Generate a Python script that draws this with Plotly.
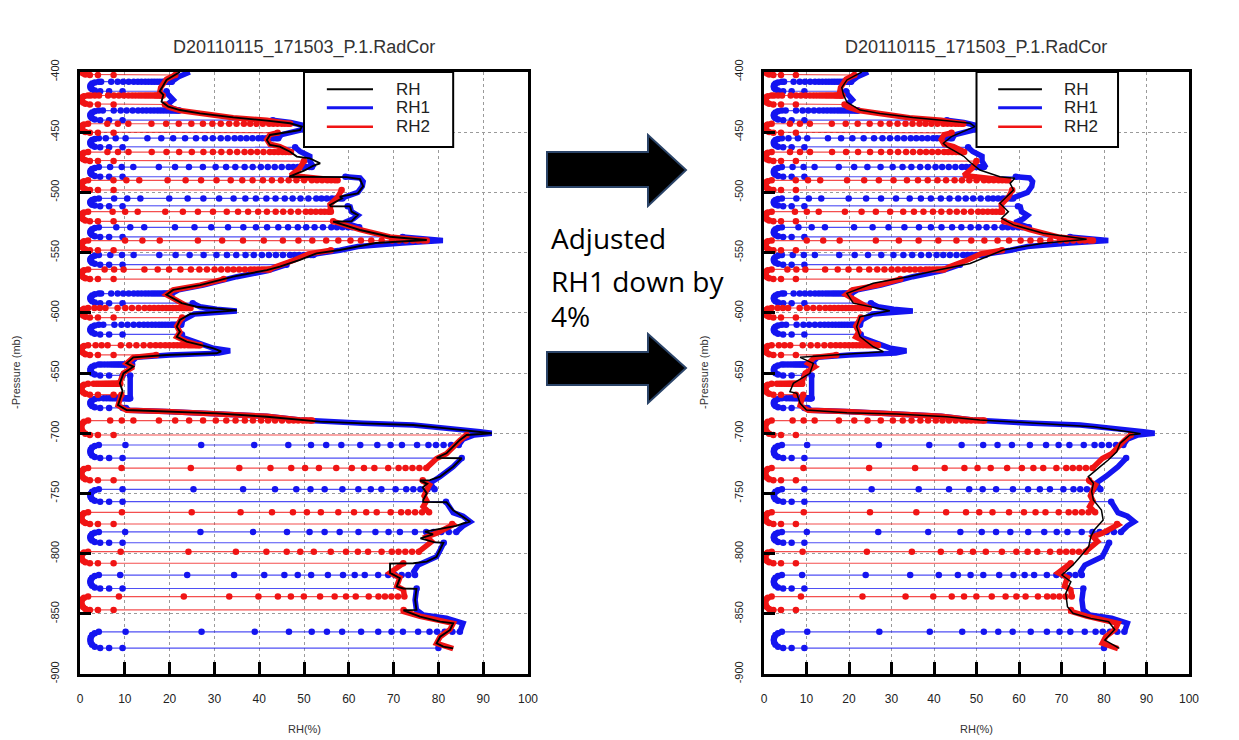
import numpy as np
import plotly.graph_objects as go

W, H = 1239, 740
TITLE = "D20110115_171503_P.1.RadCor"
X_TICKS = list(range(0, 101, 10))
Y_TICKS = list(range(-900, -399, 50))
Y_TICK_TEXT = [str(v) for v in Y_TICKS]
LEGEND_NAMES = ["RH", "RH1", "RH2"]
NOTE_LINES = ["Adjusted", "RH1 down by", "4%"]

BLUE = "#1414F0"
RED = "#F01414"
BLUE_THIN = "rgba(20,20,240,0.75)"
RED_THIN = "rgba(240,20,20,0.75)"

# RH1 (blue sensor) profile: (pressure mb, RH %)
RH1_PROFILE = [
    (400, 24.5), (404, 22.0), (408, 20.5), (413, 19.0), (418, 19.5), (423, 20.8), (427, 19.5),
    (430, 20.5), (433, 23.0), (436, 28.0), (438, 35.0), (440, 43.0), (442, 47.0), (444, 49.5),
    (446, 50.0), (448, 49.5), (452, 45.0), (456, 44.0), (460, 47.2), (466, 49.1), (470, 51.3),
    (474, 51.3), (478, 52.0), (482, 51.0), (486, 56.0), (488, 62.5), (491, 63.2), (495, 63.0),
    (500, 62.0), (504, 59.0), (509, 57.0), (512, 60.3), (516, 60.6), (519, 62.0), (522, 61.0),
    (525, 59.0), (531, 64.0), (537, 72.0), (540, 81.0), (542, 72.0), (545, 62.0), (548, 58.0),
    (551, 52.8), (556, 49.1), (562, 44.6), (565, 42.0), (570, 35.0), (577, 27.5), (581, 22.0),
    (585, 20.0), (588, 21.5), (591, 24.6), (595, 26.8), (597, 30.5), (598.5, 35.0), (601, 25.5),
    (606, 23.0), (611, 22.5), (616, 23.0), (620, 22.5), (624, 25.0), (627, 28.0), (629.5, 29.8),
    (631.5, 33.5), (633.5, 31.0), (635, 20.0), (637, 12.6), (642, 11.2), (645, 12.5), (650, 11.2),
    (655, 11.2), (660, 11.2), (665, 11.2), (672, 11.2), (677, 9.5), (681, 11.0), (682, 19.3),
    (683.5, 30.5), (686, 41.7), (689, 49.1), (691.8, 63.2), (693.2, 74.4), (696, 81.8),
    (698.7, 89.3), (700, 91.9), (701.5, 88.0), (705, 85.5), (710, 84.5), (715, 85.5),
    (720.8, 85.2), (727.8, 83.3), (736, 80.4), (741.6, 78.1), (746, 79.0), (750, 80.0),
    (755, 81.5), (758, 81.8), (766, 83.3), (769, 85.5), (773.5, 87.1), (777, 85.5), (782, 84.0),
    (787, 82.0), (791.5, 81.1), (797, 80.4), (802.6, 79.6), (806.7, 77.4), (809.5, 75.5),
    (815, 74.5), (820, 75.0), (825, 75.3), (830, 75.1), (838.5, 74.8), (846.8, 75.1), (851, 76.6),
    (853.7, 81.8), (857.8, 85.5), (862, 85.0), (865, 84.8), (870, 83.0), (875, 81.0), (878.5, 80.0),
]

# RH2 (red sensor) profile
RH2_PROFILE = [
    (400, 22.7), (406, 19.3), (413, 18.0), (417, 17.8), (420, 18.6), (425, 18.2), (429, 19.7),
    (432, 22.3), (434, 26.8), (438, 34.2), (440, 41.7), (443, 46.9), (445, 48.5), (448, 47.0),
    (452, 42.4), (456, 41.7), (460, 42.4), (462, 44.6), (466, 46.9), (470, 48.4), (474, 50.0),
    (480, 49.0), (486, 47.0), (490, 57.5), (495, 59.0), (500, 58.0), (504, 57.5), (510, 55.8),
    (516, 56.0), (520, 55.5), (524, 56.5), (531, 62.5), (537, 69.2), (540, 77.4), (542, 68.0),
    (548, 56.0), (551, 51.0), (556, 48.0), (562, 43.5), (565, 41.7), (570, 34.2), (577, 26.8),
    (581, 20.8), (585, 19.3), (588, 20.8), (592, 22.7), (595, 24.0), (598, 26.0), (601, 23.5),
    (606, 22.3), (611, 21.6), (616, 22.3), (620, 21.6), (624, 23.8), (627, 26.8), (630, 28.0),
    (633, 24.0), (635, 17.0), (637, 11.9), (642, 10.4), (645, 11.9), (650, 9.7), (658, 8.9),
    (665, 9.5), (672, 8.9), (677, 8.5), (681, 10.4), (682, 19.3), (683.5, 30.5), (686, 41.7),
    (689, 49.1), (691, 60.0), (693, 72.0), (696, 80.0), (699, 85.5), (701.5, 86.3), (706, 84.8),
    (711, 83.3), (717, 81.8), (721, 79.6), (725, 78.5), (730, 77.0), (736, 76.2), (740, 76.6),
    (743, 78.0), (747, 77.4), (752, 76.8), (756, 77.4), (761, 76.6), (766, 78.0), (770, 81.0),
    (776, 83.3), (783, 79.6), (786, 77.4), (790, 78.5), (795, 77.0), (800, 75.0), (806, 73.0),
    (812, 70.5), (816, 69.2), (820, 71.4), (827, 70.7), (830, 72.2), (838, 72.5), (848, 72.2),
    (852, 75.9), (856, 80.4), (858, 83.3), (863, 82.6), (869, 80.4), (874.5, 79.6), (877, 81.1),
    (879, 83.3),
]

# RH (black) profile, left panel (original)
RH_LEFT = [
    (400, 22.3), (406.6, 19.3), (413.6, 18.2), (416, 17.8), (419, 18.6), (424.6, 18.2),
    (428.8, 19.7), (431.6, 22.3), (434.4, 26.8), (437.7, 34.2), (440.4, 41.7), (442.6, 46.9),
    (445.4, 49.5), (448.2, 49.1), (452.3, 42.4), (456.5, 41.7), (460.6, 42.4), (462, 44.6),
    (466.2, 46.9), (470.3, 48.4), (471.7, 51.3), (475.8, 53.6), (478, 52.0), (482, 50.0),
    (486.5, 47.0), (487, 46.7), (487.3, 59.5), (489, 62.5), (495, 63.2), (500.8, 62.0),
    (503.5, 58.0), (505, 58.5), (510.5, 55.8), (511.5, 56.0), (511.6, 60.3), (516, 60.6),
    (518.8, 62.0), (524, 60.6), (524.3, 56.5), (531.2, 62.5), (536.8, 69.2), (539.5, 77.4),
    (542, 66.0), (547.8, 58.0), (550.6, 52.8), (556, 49.1), (561.7, 44.6), (564.5, 41.7),
    (570, 34.2), (577, 26.8), (581, 20.8), (585, 19.3), (588, 20.8), (592, 22.7), (595, 26.0),
    (598, 35.0), (601, 24.6), (606, 22.3), (611.5, 21.6), (615.7, 22.3), (620, 21.6), (624, 23.8),
    (626.7, 26.8), (629.5, 29.8), (632, 31.5), (633.6, 30.5), (635, 19.3), (637, 11.9),
    (642, 10.4), (644.8, 11.9), (650.3, 9.7), (658.5, 8.9), (665, 9.5), (672.4, 8.9),
    (676.6, 8.5), (680.7, 10.4), (682, 19.3), (683.5, 30.5), (686.3, 41.7), (689, 49.1),
    (690.4, 53.6), (691.8, 63.2), (693.2, 74.4), (696, 81.8), (698.7, 89.3), (700, 91.9),
    (701.5, 86.3), (705.6, 84.8), (711.2, 83.3), (716.7, 81.8), (720.5, 79.6), (720.8, 85.2),
    (727.8, 83.3), (736, 80.4), (739, 78.1), (739.3, 75.9), (742, 77.5), (745, 76.5),
    (750, 77.4), (755.5, 76.6), (757, 76.6), (757.3, 81.8), (764, 83.3), (769.4, 85.5),
    (773.5, 87.1), (775, 85.5), (777, 84.0), (781.8, 77.0), (784, 78.8), (787.3, 76.0),
    (790.5, 79.0), (791, 81.1), (797, 80.4), (802.6, 79.6), (806.7, 77.4), (808, 74.4),
    (808.3, 69.2), (816, 69.2), (820.5, 71.4), (827.5, 70.7), (829, 72.2), (829.3, 75.1),
    (838.5, 74.8), (846.8, 75.1), (847.1, 72.2), (852.3, 75.9), (856.5, 80.4), (857.8, 83.3),
    (863.4, 82.6), (869, 80.4), (874.5, 79.6), (877.3, 81.1), (878.7, 83.3),
]

# RH (black) profile, right panel (RH1 adjusted down by 4 %)
RH_RIGHT = [
    (400, 23.0), (406.6, 19.5), (413, 18.3), (419, 18.7), (425, 19.5), (431.6, 22.6),
    (434.4, 27.3), (437.7, 35.0), (440.4, 43.0), (442.6, 48.5), (445.4, 49.6), (448, 48.0),
    (453.7, 44.1), (459.2, 42.2), (462, 43.0), (466, 45.0), (470, 47.0), (475, 48.5),
    (481.4, 50.8), (487, 55.5), (488.3, 59.0), (492.5, 57.9), (498, 58.7), (503.6, 57.1),
    (509, 55.5), (516, 57.5), (521.5, 55.9), (527, 58.7), (534, 65.7), (539, 75.9),
    (542.3, 65.7), (547.8, 56.3), (553.4, 52.4), (559, 48.5), (564.5, 41.0), (570, 34.0),
    (575.5, 25.7), (583.8, 19.5), (592, 21.0), (598.3, 29.6), (603.2, 22.6), (611.5, 21.8),
    (619.8, 22.6), (628.2, 25.7), (632.3, 28.1), (637, 8.5), (642, 11.6), (650.3, 10.8),
    (658.6, 6.9), (665.5, 6.1), (666.9, 7.7), (675.2, 8.5), (680.7, 10.0), (683, 19.5),
    (684, 31.2), (686.3, 43.0), (689, 50.8), (692.4, 65.7), (694.6, 77.5), (699.5, 86.9),
    (700.5, 88.6), (701.5, 86.1), (708.4, 83.8), (715.4, 83.0), (722.3, 81.0), (727.8, 79.1),
    (736.1, 76.3), (741.6, 77.5), (748.5, 77.1), (755.5, 77.5), (763.8, 79.4), (772.1, 79.8),
    (780.4, 77.7), (786, 76.9), (794.3, 76.4), (802.6, 74.4), (809.5, 72.7), (817.8, 70.1),
    (823.3, 72.2), (833, 71.0), (844.1, 71.4), (849.6, 72.7), (853.8, 76.9), (856.6, 81.1),
    (863, 82.5), (871.8, 80.2), (878.7, 83.6),
]

# heating cycles: (pressure where heating starts, pressure where recovery shows)
RH1_CYCLES = [(416, 408), (440, 432), (462.6, 455), (487, 479), (511.5, 505), (537, 529),
              (560, 552), (592, 584), (618, 610), (652, 643), (679, 671), (720.7, 709.8),
              (756.9, 746.6), (791, 782), (829, 817.8), (878.5, 865)]
RH2_CYCLES = [(402.5, 396), (427, 419.5), (450.5, 443), (474, 466.5), (498, 490), (524, 516),
              (548, 540), (572, 564), (604, 596), (635, 627), (668, 659), (701.5, 689.5),
              (739, 729), (775.4, 765.7), (808, 798.4), (846.8, 835.7)]

# readings while heating / recovering
RH1_DROP_DOTS = [9.5, 6.5]
RH2_DROP_DOTS = [7.5, 4.0]
HEAT_T = [0.0, 0.08, 0.2, 0.35, 0.5, 0.65, 0.8, 0.92, 1.0]
RH1_HEAT = [4.5, 3.3, 2.7, 2.4, 2.3, 2.4, 2.7, 3.3, 4.2]
RH2_HEAT = [2.2, 1.2, 0.7, 0.4, 0.3, 0.3, 0.5, 0.9, 1.8]
REC_FRAC_UPPER = [0.13, 0.18, 0.23, 0.34, 0.41, 0.47, 0.53, 0.585, 0.63, 0.67, 0.71, 0.745,
                  0.78, 0.81, 0.84, 0.87, 0.9, 0.92, 0.94, 0.96, 0.975, 0.99]
REC_FRAC_LOWER = [0.12, 0.32, 0.46, 0.55, 0.61, 0.65, 0.69, 0.74, 0.785, 0.82, 0.85, 0.89,
                  0.92, 0.94, 0.96, 0.98]
REC_SPLIT_P = 690


def unzip(pairs):
    p = np.array([a for a, _ in pairs], float)
    v = np.array([b for _, b in pairs], float)
    o = np.argsort(p)
    return p[o], v[o]


def sensor_paths(profile, cycles, drop_dots, heat_rh):
    pp, vv = unzip(profile)

    def lev(p):
        return float(np.interp(p, pp, vv))

    tx, ty = [], []
    for d, r in cycles:
        ld, lr = lev(d), lev(r)
        xs = [ld] + [v for v in drop_dots if v < ld]
        ys = [d] * len(xs)
        xs += list(heat_rh)
        ys += [d - t * (d - r) for t in HEAT_T]
        fr = REC_FRAC_UPPER if r < REC_SPLIT_P else REC_FRAC_LOWER
        rec = [f * lr for f in fr if f * lr > heat_rh[-1] + 0.5] + [lr]
        xs += rec
        ys += [r] * len(rec)
        tx += xs + [None]
        ty += [-y for y in ys] + [None]

    kx, ky = [], []
    start = pp.max()
    bounds = []
    for d, r in sorted(cycles, reverse=True):
        if start > d:
            bounds.append((start, d))
        start = r
    if start > pp.min():
        bounds.append((start, pp.min()))
    for a, b in bounds:
        ps = [a] + [p for p in pp[::-1] if b < p < a] + [b]
        kx += [lev(p) for p in ps] + [None]
        ky += [-p for p in ps] + [None]
    return (tx, ty), (kx, ky)


def px(x):
    return x / W


def py(y):
    return 1 - y / H


fig = go.Figure()
panels = [("x", "y", RH_LEFT, 1.9), ("x2", "y2", RH_RIGHT, 1.5)]
for xa, ya, black, bw in panels:
    for prof, cyc, dd, heat, col, thin in [
            (RH1_PROFILE, RH1_CYCLES, RH1_DROP_DOTS, RH1_HEAT, BLUE, BLUE_THIN),
            (RH2_PROFILE, RH2_CYCLES, RH2_DROP_DOTS, RH2_HEAT, RED, RED_THIN)]:
        (tx, ty), (kx, ky) = sensor_paths(prof, cyc, dd, heat)
        fig.add_trace(go.Scatter(x=tx, y=ty, mode="lines+markers", xaxis=xa, yaxis=ya,
                                 line=dict(color=thin, width=1.2), marker=dict(color=col, size=6.5),
                                 showlegend=False, hoverinfo="skip"))
        fig.add_trace(go.Scatter(x=kx, y=ky, mode="lines", xaxis=xa, yaxis=ya,
                                 line=dict(color=col, width=5.5), showlegend=False, hoverinfo="skip"))
    bp, bv = unzip(black)
    fig.add_trace(go.Scatter(x=bv, y=-bp, mode="lines", xaxis=xa, yaxis=ya,
                             line=dict(color="black", width=bw), showlegend=False, hoverinfo="skip"))

FONT = "Liberation Sans, Arial, sans-serif"
xcommon = dict(range=[0, 100], tickvals=X_TICKS, ticks="inside", ticklen=12, tickwidth=2.5,
               tickcolor="black", showline=True, linecolor="black", linewidth=2.5, mirror=True,
               showgrid=True, gridcolor="#9a9a9a", griddash="dot", gridwidth=1, zeroline=False,
               tickfont=dict(size=12, family=FONT, color="#222"), ticklabelstandoff=12,
               automargin=False)
ycommon = dict(range=[-900, -400], tickvals=Y_TICKS, ticktext=Y_TICK_TEXT, tickangle=-90,
               ticks="inside", ticklen=11, tickwidth=2.5, tickcolor="black", showline=True,
               linecolor="black", linewidth=2.5, mirror=True, showgrid=True, gridcolor="#9a9a9a",
               griddash="dot", gridwidth=1, zeroline=False,
               tickfont=dict(size=11, family=FONT, color="#222"), ticklabelstandoff=14,
               automargin=False)

fig.update_layout(
    width=W, height=H, margin=dict(l=0, r=0, t=0, b=0, pad=0, autoexpand=False),
    paper_bgcolor="white", plot_bgcolor="white", showlegend=False,
    font=dict(family=FONT, color="#222"),
    xaxis=dict(domain=[px(80), px(528)], anchor="y", **xcommon),
    yaxis=dict(domain=[py(674), py(72)], anchor="x", **ycommon),
    xaxis2=dict(domain=[px(764), px(1189)], anchor="y2", **xcommon),
    yaxis2=dict(domain=[py(674), py(72)], anchor="x2", **ycommon),
)

shapes = []
annotations = []
# legend boxes (data coords, same in both panels)
for xr, yr in [("x", "y"), ("x2", "y2")]:
    shapes.append(dict(type="rect", xref=xr, yref=yr, x0=50, x1=83.3, y0=-462.3, y1=-400,
                       fillcolor="white", line=dict(color="black", width=2), layer="above"))
    for name, col, lw, yy in zip(LEGEND_NAMES, ["black", BLUE, RED], [2, 3, 2.5],
                                 [-414.4, -429.6, -445.4]):
        shapes.append(dict(type="line", xref=xr, yref=yr, x0=55.1, x1=65.4, y0=yy, y1=yy,
                           line=dict(color=col, width=lw), layer="above"))
        annotations.append(dict(xref=xr, yref=yr, x=70.0, y=yy, text=name, showarrow=False,
                                xanchor="left", yanchor="middle",
                                font=dict(size=17, family=FONT, color="#222")))

# titles and axis titles
for cx, yx in [(304, 16), (976, 704)]:
    annotations.append(dict(xref="paper", yref="paper", x=px(cx), y=py(47), text=TITLE,
                            showarrow=False, xanchor="center", yanchor="middle",
                            font=dict(size=18, family=FONT, color="#333")))
    annotations.append(dict(xref="paper", yref="paper", x=px(cx), y=py(729), text="RH(%)",
                            showarrow=False, xanchor="center", yanchor="middle",
                            font=dict(size=11, family=FONT, color="#333")))
    annotations.append(dict(xref="paper", yref="paper", x=px(yx), y=py(373),
                            text="-Pressure (mb)", textangle=-90, showarrow=False,
                            xanchor="center", yanchor="middle",
                            font=dict(size=11, family=FONT, color="#333")))

# arrows
for top, tip, bot, sh_t, sh_b in [(135, 170, 206, 152, 187), (334, 368, 403, 352, 385)]:
    pts = [(547, sh_t), (648, sh_t), (648, top), (686, tip), (648, bot), (648, sh_b), (547, sh_b)]
    path = "M " + " L ".join(f"{px(a):.5f},{py(b):.5f}" for a, b in pts) + " Z"
    shapes.append(dict(type="path", xref="paper", yref="paper", path=path, fillcolor="black",
                       line=dict(color="#2B4468", width=2), layer="above"))

for txt, yy in zip(NOTE_LINES, [238, 281, 316]):
    annotations.append(dict(xref="paper", yref="paper", x=px(549), y=py(yy), text=txt,
                            showarrow=False, xanchor="left", yanchor="middle",
                            font=dict(size=28, family="Open Sans, Lato, sans-serif", color="black")))

fig.update_layout(shapes=shapes, annotations=annotations)
fig.write_html("out.html", config={"displayModeBar": False},
               post_script="document.body.style.margin='0';document.body.style.overflow='hidden';")
